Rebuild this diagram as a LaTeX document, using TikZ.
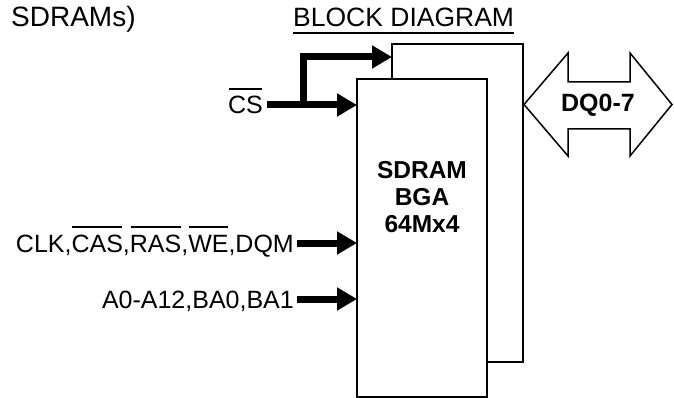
\documentclass[tikz,border=0pt]{standalone}
\usepackage{fontspec}
\setmainfont{Liberation Sans}
\usetikzlibrary{arrows.meta}
\newcommand{\olx}[1]{\setbox0=\hbox{#1}\rlap{\hspace{0.8pt}\raisebox{24pt}{\rule{\dimexpr\wd0-1.6pt\relax}{1.8pt}}}\box0}
\begin{document}
\begin{tikzpicture}[x=1pt,y=-1pt,
  box/.style={draw, line width=2pt, fill=white, inner sep=0pt, outer sep=0pt, anchor=north west},
  sig/.style={line width=7pt, line join=miter, -{Triangle[length=20pt,width=22pt]}},
  lab/.style={inner sep=0pt, text height=18pt, text depth=0pt, font=\fontsize{25}{30}\selectfont},
  boldtxt/.style={font=\fontsize{24.5}{27}\selectfont\bfseries, align=center, inner sep=0pt}]
\useasboundingbox (0,0) rectangle (674,398);
% heading texts
\node[inner sep=0pt, anchor=base west, font=\fontsize{28}{30}\selectfont] (note) at (11,27) {SDRAMs)};
\node[inner sep=0pt, anchor=base west, font=\fontsize{26.5}{30}\selectfont] (title) at (293,27) {BLOCK DIAGRAM};
\draw[line width=1.8pt] ([yshift=-6pt]title.base west) -- ([yshift=-6pt]title.base east);
% chips
\node[box, minimum width=131pt, minimum height=318pt] (back) at (392,44) {};
\node[box, minimum width=130pt, minimum height=318pt] (front) at (357,79) {};
\node[boldtxt] (chip) at (422,197) {SDRAM\\BGA\\64Mx4};
% CS
\node[lab, anchor=east] (cs) at (263,105) {\olx{CS}};
\draw[sig] ([xshift=4pt]cs.east) -- (cs.east -| front.west);
\coordinate (jn) at (303,105);
\coordinate (tp) at (303,57);
\draw[sig] (jn) -- (tp) -- (tp -| back.west);
% control
\node[lab, anchor=east] (ctl) at (294,243) {CLK,\olx{CAS},\olx{RAS},\olx{WE},DQM};
\draw[sig] ([xshift=3pt]ctl.east) -- (ctl.east -| front.west);
% address
\node[lab, anchor=east] (addr) at (294,299) {A0-A12,BA0,BA1};
\draw[sig] ([xshift=3pt]addr.east) -- (addr.east -| front.west);
% data bus
\draw[line width=1.5pt, line join=miter] (524,104.5) -- (568,53) -- (568,82) -- (630,82) -- (630,53) -- (672,104.5) -- (630,156) -- (630,129) -- (568,129) -- (568,156) -- cycle;
\node[font=\fontsize{25}{30}\selectfont\bfseries, inner sep=0pt] (dq) at (598,105) {DQ0-7};
\end{tikzpicture}
\end{document}
